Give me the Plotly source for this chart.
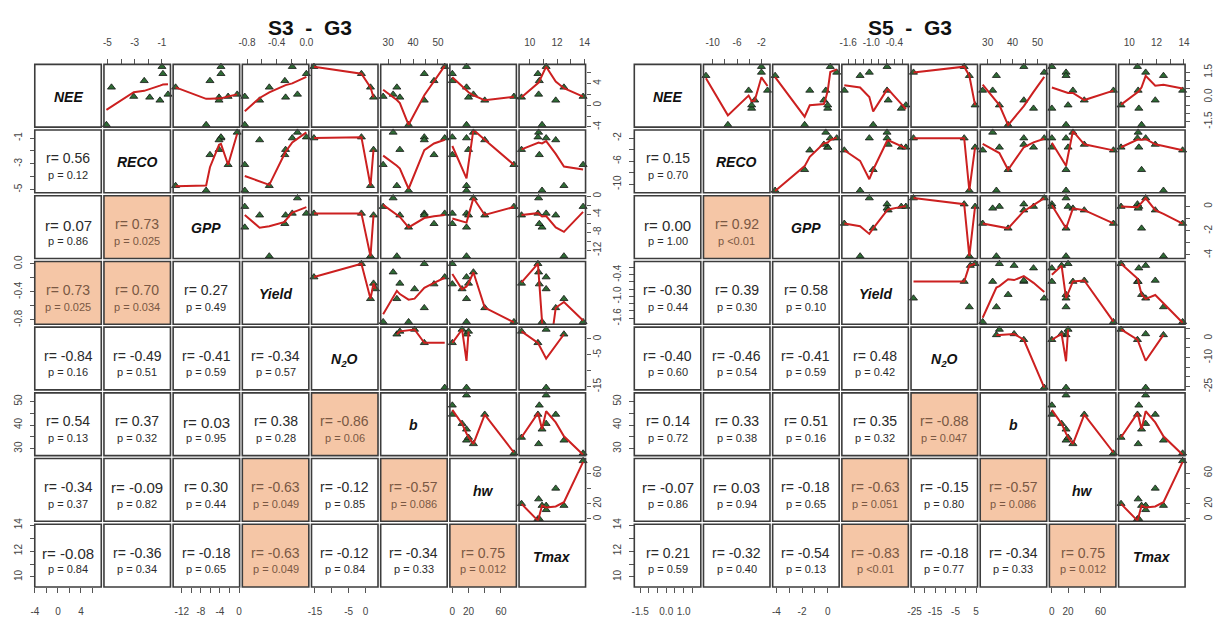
import numpy as np
import plotly.graph_objects as go

W, H = 1215, 617

DIAG = ["NEE", "RECO", "GPP", "Yield", "N<sub>2</sub>O", "b", "hw", "Tmax"]

# ---- observations shared by both matrices ----
b_vals = [38.2, 52.7, 44.5, 48.4, 33.5, 32.0, 28.0, 34.7, 44.5, 40.6]
hw_vals = [17.5, 17.5, 0, 0, 17.5, 26, 76, 20, 40, 12]
tmax_vals = [10.9, 11.2, 10.6, 10.7, 12.5, 10.65, 13.9, 9.4, 11.9, 11.2]

# ---- S3 - G3 ----
s3_nee = [-3.6, 7.1, 5.8, 4.5, 3.3, 2.0, 1.6, 1.45, 0.9, None]
s3_reco = [-5.07, -1.0, -0.93, -2.3, -4.7, -0.56, -3.07, -1.9, -1.15, None]
s3_gpp = [-6.9, -3.8, -3.8, -6.1, -13.3, -0.4, -2.3, -4.2, -4.2, None]
s3_yield = [-0.83, -0.19, 0.0, -0.29, -0.5, -0.12, -0.83, -0.28, -0.63, -0.36]
s3_n2o = [None, -15.3, -1.2, None, 1.5, None, None, 2.4, None, 3.0]

s3_r = ["0.56",
        "0.07", "0.73",
        "0.73", "0.70", "0.27",
        "-0.84", "-0.49", "-0.41", "-0.34",
        "0.54", "0.37", "0.03", "0.38", "-0.86",
        "-0.34", "-0.09", "0.30", "-0.63", "-0.12", "-0.57",
        "-0.08", "-0.36", "-0.18", "-0.63", "-0.12", "-0.34", "0.75"]
s3_p = ["0.12",
        "0.86", "0.025",
        "0.025", "0.034", "0.49",
        "0.16", "0.51", "0.59", "0.57",
        "0.13", "0.32", "0.95", "0.28", "0.06",
        "0.37", "0.82", "0.44", "0.049", "0.85", "0.086",
        "0.84", "0.34", "0.65", "0.049", "0.84", "0.33", "0.012"]

s3_ticks = [[-4, -2, 0, 2, 4, 6], [-5, -4, -3, -2, -1], [-12, -10, -8, -6, -4, -2, 0],
            [-0.8, -0.6, -0.4, -0.2, 0.0], [-15, -10, -5, 0], [30, 35, 40, 45, 50],
            [0, 20, 40, 60], [10, 11, 12, 13, 14]]
s3_xlabels = [["-4", "", "0", "", "4", ""], ["-5", "", "-3", "", "-1"],
              ["-12", "", "-8", "", "-4", "", "0"], ["-0.8", "", "-0.4", "", "0.0"],
              ["-15", "", "-5", "0"], ["30", "", "40", "", "50"],
              ["0", "20", "", "60"], ["10", "", "12", "", "14"]]
s3_ylabels = s3_xlabels

# ---- S5 - G3 ----
s5_nee = [-1.7, 1.5, 1.85, -0.7, 1.3, 0.4, 0.4, -0.5, -0.2, None]
s5_reco = [-7.5, -2.0, -2.0, -3.6, -11.1, -1.0, -4.1, -3.6, -3.1, None]
s5_gpp = [-1.8, 0.7, 0.2, 0.0, -4.1, -0.15, -1.4, 0.0, -0.3, None]
s5_yield = [-0.95, -1.05, -0.59, -0.22, -1.29, -0.59, -1.7, -0.1, -0.56, -0.15]
s5_n2o = [None, -25.5, -0.8, None, 1.7, None, None, 4.5, None, 2.2]

s5_r = ["0.15",
        "0.00", "0.92",
        "-0.30", "0.39", "0.58",
        "-0.40", "-0.46", "-0.41", "0.48",
        "0.14", "0.33", "0.51", "0.35", "-0.88",
        "-0.07", "0.03", "-0.18", "-0.63", "-0.15", "-0.57",
        "0.21", "-0.32", "-0.54", "-0.83", "-0.18", "-0.34", "0.75"]
s5_p = ["0.70",
        "1.00", "<0.01",
        "0.44", "0.30", "0.10",
        "0.60", "0.54", "0.59", "0.42",
        "0.72", "0.38", "0.16", "0.32", "0.047",
        "0.86", "0.94", "0.65", "0.051", "0.80", "0.086",
        "0.59", "0.40", "0.13", "<0.01", "0.77", "0.33", "0.012"]

s5_ticks = [[-1.5, -1.0, -0.5, 0, 0.5, 1.0, 1.5], [-10, -8, -6, -4, -2], [-4, -3, -2, -1, 0],
            [-1.6, -1.4, -1.2, -1.0, -0.8, -0.6, -0.4, -0.2], [-25, -20, -15, -10, -5, 0, 5],
            [30, 35, 40, 45, 50], [0, 20, 40, 60], [10, 11, 12, 13, 14]]
s5_xlabels = [["-1.5", "", "", "0.0", "", "1.0", ""], ["-10", "", "-6", "", "-2"],
              ["-4", "", "-2", "", "0"], ["-1.6", "", "", "-1.0", "", "", "-0.4", ""],
              ["-25", "", "-15", "", "-5", "", "5"], ["30", "", "40", "", "50"],
              ["0", "20", "", "60"], ["10", "", "12", "", "14"]]
s5_ylabels = [["-1.5", "", "", "0.0", "", "", "1.5"], ["-10", "", "-6", "", "-2"],
              ["-4", "", "-2", "", "0"], ["-1.6", "", "", "-1.0", "", "", "-0.4", ""],
              ["-25", "", "", "-10", "", "0", ""], ["30", "", "40", "", "50"],
              ["0", "20", "", "60"], ["10", "", "12", "", "14"]]

# ---- geometry (pixels) ----
CW, CH = 67.0, 64.0
PITCH_X, PITCH_Y = 69.7, 67.0
TOP = 58.5
FONT = "Liberation Sans, Arial, sans-serif"
BORDER = "#3c3c3c"
HILITE = "#f5c6a6"


def lowess(xv, yv, f=2 / 3, iters=3):
    """Port of R's clowess (stats::lowess)."""
    order = np.argsort(np.asarray(xv, float), kind="mergesort")
    x = np.asarray(xv, float)[order]
    y = np.asarray(yv, float)[order]
    n = len(x)
    if n < 2:
        return x, y.copy()
    xr = x[-1] - x[0]
    delta = 0.01 * xr
    ns = max(2, min(n, int(f * n + 1e-7)))
    ys = np.zeros(n)
    rw = np.ones(n)
    w = np.zeros(n)

    def lowest(xs, nleft, nright, userw):
        h = max(xs - x[nleft], x[nright] - xs)
        h9, h1 = 0.999 * h, 0.001 * h
        a = 0.0
        j = nleft
        while j < n:
            w[j] = 0.0
            r = abs(x[j] - xs)
            if r <= h9:
                w[j] = 1.0 if r <= h1 else (1 - (r / h) ** 3) ** 3
                if userw:
                    w[j] *= rw[j]
                a += w[j]
            elif x[j] > xs:
                break
            j += 1
        nrt = j - 1
        if a <= 0:
            return None
        sl = slice(nleft, nrt + 1)
        w[sl] /= a
        if h > 0:
            a = np.sum(w[sl] * x[sl])
            b = xs - a
            c = np.sum(w[sl] * (x[sl] - a) ** 2)
            if np.sqrt(c) > 0.001 * xr:
                b /= c
                w[sl] *= b * (x[sl] - a) + 1.0
        return float(np.sum(w[sl] * y[sl]))

    it = 1
    while it <= iters + 1:
        nleft, nright, last, i = 0, ns - 1, -1, 0
        while True:
            if nright < n - 1:
                d1 = x[i] - x[nleft]
                d2 = x[nright + 1] - x[i]
                if d1 > d2:
                    nleft += 1
                    nright += 1
                    continue
            val = lowest(x[i], nleft, nright, it > 1)
            ys[i] = y[i] if val is None else val
            if last < i - 1:
                denom = x[i] - x[last]
                for j in range(last + 1, i):
                    al = (x[j] - x[last]) / denom
                    ys[j] = al * ys[i] + (1 - al) * ys[last]
            last = i
            cut = x[last] + delta
            i = last + 1
            while i < n:
                if x[i] > cut:
                    break
                if x[i] == x[last]:
                    ys[i] = ys[last]
                    last = i
                i += 1
            i = max(last + 1, i - 1)
            if last >= n - 1:
                break
        res = y - ys
        sc = np.sum(np.abs(res)) / n
        if it > iters:
            break
        ar = np.sort(np.abs(res))
        m1 = n // 2
        if n % 2 == 0:
            cmad = 3 * (ar[m1] + ar[n - m1 - 1])
        else:
            cmad = 6 * ar[m1]
        if cmad < 1e-7 * sc:
            break
        r = np.abs(res)
        rw = np.where(r <= 0.001 * cmad, 1.0,
                      np.where(r <= 0.999 * cmad, (1 - (r / cmad) ** 2) ** 2, 0.0))
        it += 1
    return x, ys


def px(xp):
    return xp / W


def py(yp):
    return 1 - yp / H


fig = go.Figure()
layout_axes = {}
shapes = []
annotations = []


def axis_name(kind, idx):
    return f"{kind}axis" if idx == 1 else f"{kind}axis{idx}"


def axis_ref(kind, idx):
    return kind if idx == 1 else f"{kind}{idx}"


def label(xp, yp, text, size, color):
    annotations.append(dict(
        x=px(xp), y=py(yp), xref="paper", yref="paper", text=text, showarrow=False,
        xanchor="center", yanchor="middle", font=dict(family=FONT, size=size, color=color)))


def build(mi, x_left, title, cols, ticks, xlabels, ylabels, r_txt, p_txt, right_off):
    nv = len(cols)
    ranges = []
    for v in cols:
        vals = [t for t in v if t is not None]
        lo, hi = min(vals), max(vals)
        pad = 0.04 * (hi - lo)
        ranges.append([lo - pad, hi + pad])

    cx0 = [x_left + k * PITCH_X for k in range(nv)]
    cy0 = [TOP + k * PITCH_Y for k in range(nv)]
    bottom = cy0[-1] + CH
    right = cx0[-1] + CW
    tfont = dict(family=FONT, size=10, color="#444")

    for k in range(nv):
        xi = mi * nv + k + 1
        top_side = (k % 2 == 1)
        layout_axes[axis_name("x", xi)] = dict(
            domain=[px(cx0[k]), px(cx0[k] + CW)], range=ranges[k], anchor="free",
            position=py(TOP) if top_side else py(bottom), side="top" if top_side else "bottom",
            tickmode="array", tickvals=ticks[k], ticktext=xlabels[k], ticks="outside",
            ticklen=5, tickwidth=1, tickcolor="#555", ticklabelstandoff=9 if top_side else 10,
            showline=False, showgrid=False, zeroline=False, fixedrange=True, tickfont=tfont)
        left_side = (k % 2 == 1)
        layout_axes[axis_name("y", xi)] = dict(
            domain=[py(cy0[k] + CH), py(cy0[k])], range=ranges[k], anchor="free",
            position=px(x_left) if left_side else px(right), side="left" if left_side else "right",
            tickmode="array", tickvals=ticks[k], ticktext=ylabels[k], ticks="outside",
            ticklen=5 if left_side else 4, tickwidth=1, tickcolor="#555", tickangle=-90,
            ticklabelstandoff=4 if left_side else right_off,
            showline=False, showgrid=False, zeroline=False, fixedrange=True, tickfont=tfont)

    # placeholder trace so the first column / last row axes are rendered
    fig.add_trace(go.Scatter(x=[None], y=[None], mode="markers", showlegend=False,
                             hoverinfo="skip", xaxis=axis_ref("x", mi * nv + 1),
                             yaxis=axis_ref("y", mi * nv + nv)))

    li = 0
    for i in range(nv):
        for j in range(nv):
            x0, y0 = cx0[j], cy0[i]
            xc, yc = x0 + CW / 2, y0 + CH / 2
            if i < j:
                pts = [(a, b) for a, b in zip(cols[j], cols[i]) if a is not None and b is not None]
                xs = [p[0] for p in pts]
                ys = [p[1] for p in pts]
                xa, ya = axis_ref("x", mi * nv + j + 1), axis_ref("y", mi * nv + i + 1)
                fig.add_trace(go.Scatter(
                    x=xs, y=ys, mode="markers", xaxis=xa, yaxis=ya, showlegend=False,
                    hoverinfo="skip", cliponaxis=False,
                    marker=dict(symbol="triangle-up", size=7, color="#2f6b35",
                                line=dict(color="#151515", width=0.8))))
                lx, ly = lowess(xs, ys)
                fig.add_trace(go.Scatter(
                    x=lx, y=ly, mode="lines", xaxis=xa, yaxis=ya, showlegend=False,
                    hoverinfo="skip", line=dict(color="#cc2020", width=2)))
            elif i == j:
                label(xc, yc + 1, f"<b><i>{DIAG[i]}</i></b>", 14, "#111")
            else:
                pstr = p_txt[li]
                rstr = r_txt[li]
                li += 1
                sig = float(pstr.lstrip("<")) < 0.1
                if sig:
                    shapes.append(dict(type="rect", xref="paper", yref="paper",
                                       x0=px(x0), x1=px(x0 + CW), y0=py(y0 + CH), y1=py(y0),
                                       fillcolor=HILITE, line=dict(width=0), layer="below"))
                col = "#7a5843" if sig else "#2a2a2a"
                big = abs(float(rstr)) < 0.1
                label(xc, yc - 3 + (1 if big else 0), f"r= {rstr}", 15 if big else 14, col)
                ptxt = f"p {pstr}" if pstr.startswith("<") else f"p = {pstr}"
                label(xc, yc + 14, ptxt, 11, col)
            shapes.append(dict(type="rect", xref="paper", yref="paper",
                               x0=px(x0), x1=px(x0 + CW), y0=py(y0 + CH), y1=py(y0),
                               line=dict(color=BORDER, width=1.6), layer="above"))

    label((x_left + right) / 2, 21, f"<b>{title}</b>", 21, "#111")


build(0, 31.0, "S3\u00a0\u00a0-\u00a0\u00a0G3",
      [s3_nee, s3_reco, s3_gpp, s3_yield, s3_n2o, b_vals, hw_vals, tmax_vals],
      s3_ticks, s3_xlabels, s3_ylabels, s3_r, s3_p, -2)
build(1, 635.0, "S5\u00a0\u00a0-\u00a0\u00a0G3",
      [s5_nee, s5_reco, s5_gpp, s5_yield, s5_n2o, b_vals, hw_vals, tmax_vals],
      s5_ticks, s5_xlabels, s5_ylabels, s5_r, s5_p, 10)

fig.update_layout(
    width=W, height=H, margin=dict(l=0, r=0, t=0, b=0),
    paper_bgcolor="white", plot_bgcolor="rgba(0,0,0,0)",
    showlegend=False, shapes=shapes, annotations=annotations, **layout_axes)

fig.write_html("out.html")
